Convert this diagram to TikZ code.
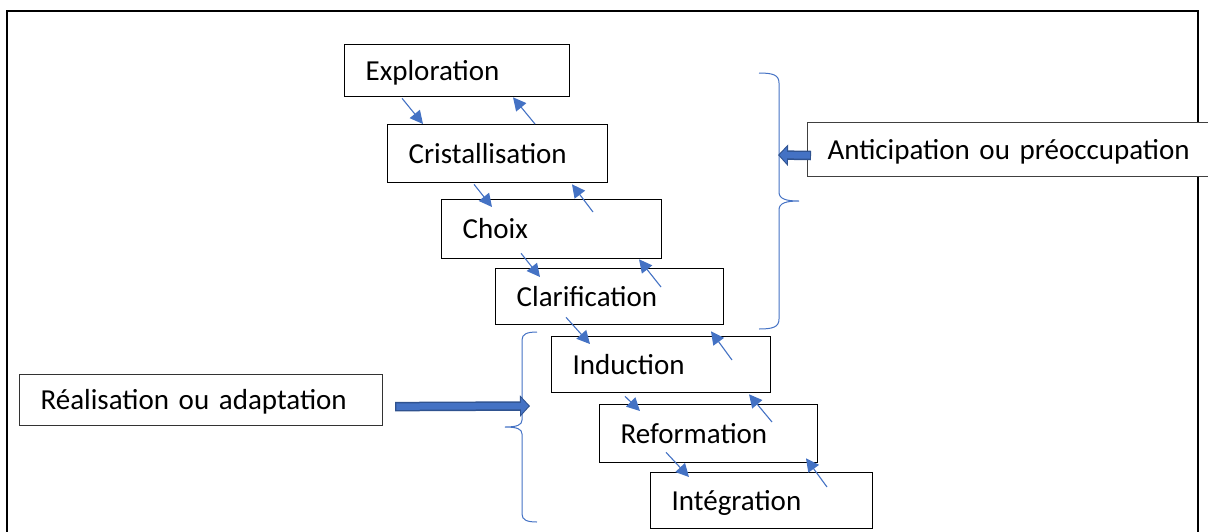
\documentclass[tikz,border=0pt]{standalone}
\usepackage{fontspec}
\setmainfont{Carlito}
\usepackage{tikz}
\usetikzlibrary{arrows.meta}

\definecolor{officeblue}{HTML}{4472C4}
\definecolor{officedark}{HTML}{2F528F}
\newcommand\stagefont{\fontsize{29}{34}\selectfont}

\begin{document}
\begin{tikzpicture}[x=1pt,y=-1pt,
	stage/.style={draw, line width=1.3pt, fill=white, font=\stagefont, anchor=north west,
		inner xsep=21pt, text height=19pt, text depth=0pt, align=left},
	flow/.style={draw=officeblue, line width=1.1pt, -{Triangle[length=13pt,width=13pt]}},
	fatedge/.style={draw=officedark, line width=9.5pt, -{Triangle[length=10pt,width=21pt]}},
	fatfill/.style={draw=officeblue, line width=6.5pt, shorten >=1.5pt, shorten <=1.2pt,
		-{Triangle[length=7.5pt,width=16pt]}},
	bracket/.style={draw=officeblue, line width=1pt}]
\useasboundingbox (0,0) rectangle (1208,531);

\draw[line width=2.8pt] (7,540)--(7,11)--(1198,11)--(1198,540);

\node[stage, text width=183pt, minimum height=52pt] (expl) at (344,44) {Exploration};
\node[stage, text width=178pt, minimum height=58pt] (cris) at (387,124) {Cristallisation};
\node[stage, text width=178pt, minimum height=59pt] (choix) at (441,199) {Choix};
\node[stage, text width=186pt, minimum height=56pt] (clar) at (495,268) {Clarification};
\node[stage, text width=177pt, minimum height=56pt] (induc) at (551,336) {Induction};
\node[stage, text width=176pt, minimum height=58pt] (refor) at (599,404) {Reformation};
\node[stage, text width=180pt, minimum height=56pt] (integ) at (650,472) {Intégration};

\node[stage, draw=black!75, line width=1pt, inner xsep=20pt, text width=400pt,
	minimum height=54pt] (antic) at (807,122) {Anticipation ou préoccupation};
\node[stage, draw=black!80, line width=1.2pt, text width=321pt,
	minimum height=51pt] (real) at (19,374) {Réalisation ou adaptation};

% descending and returning steps
\foreach \u/\l/\ux/\uy/\lx/\ly in {expl/cris/58/1/36/0, cris/choix/87/1/51/8,
	choix/clar/80/-6/45/9, clar/induc/71/-8/39/8, induc/refor/74/3/41/7,
	refor/integ/67/-11/39/5}{
	\draw[flow] ([shift={(\ux,\uy)}]\u.south west)--([shift={(\lx,\ly)}]\l.north west);
}
\foreach \l/\u/\lx/\ly/\ux/\uy in {cris/expl/148/0/169/0, choix/cris/152/13/185/1,
	clar/choix/166/19/198/0, induc/clar/181/24/216/6, refor/induc/173/18/198/1,
	integ/refor/177/15/207/-5}{
	\draw[flow] ([shift={(\lx,\ly)}]\l.north west)--([shift={(\ux,\uy)}]\u.south west);
}

% braces
\draw[bracket] (759,73) .. controls (773,73) and (779,75) .. (779,83)--(779,192)
	.. controls (779,199) and (786,201) .. (799,201)
	.. controls (786,201) and (779,203) .. (779,210)--(779,319)
	.. controls (779,327) and (773,329) .. (759,329);
\draw[bracket] (537,332) .. controls (527,332) and (522,334) .. (522,340)--(522,420)
	.. controls (522,425) and (517,427) .. (505,427)
	.. controls (517,427) and (522,429) .. (522,434)--(522,514)
	.. controls (522,520) and (527,522) .. (537,522);

\coordinate (antictip) at (778,155);
\coordinate (realtip) at (530,406);
\draw[fatedge] ([shift={(4,6)}]antic.west)--(antictip);
\draw[fatfill] ([shift={(4,6)}]antic.west)--(antictip);
\draw[fatedge] ([shift={(12,6.5)}]real.east)--(realtip);
\draw[fatfill] ([shift={(12,6.5)}]real.east)--(realtip);

\end{tikzpicture}
\end{document}
